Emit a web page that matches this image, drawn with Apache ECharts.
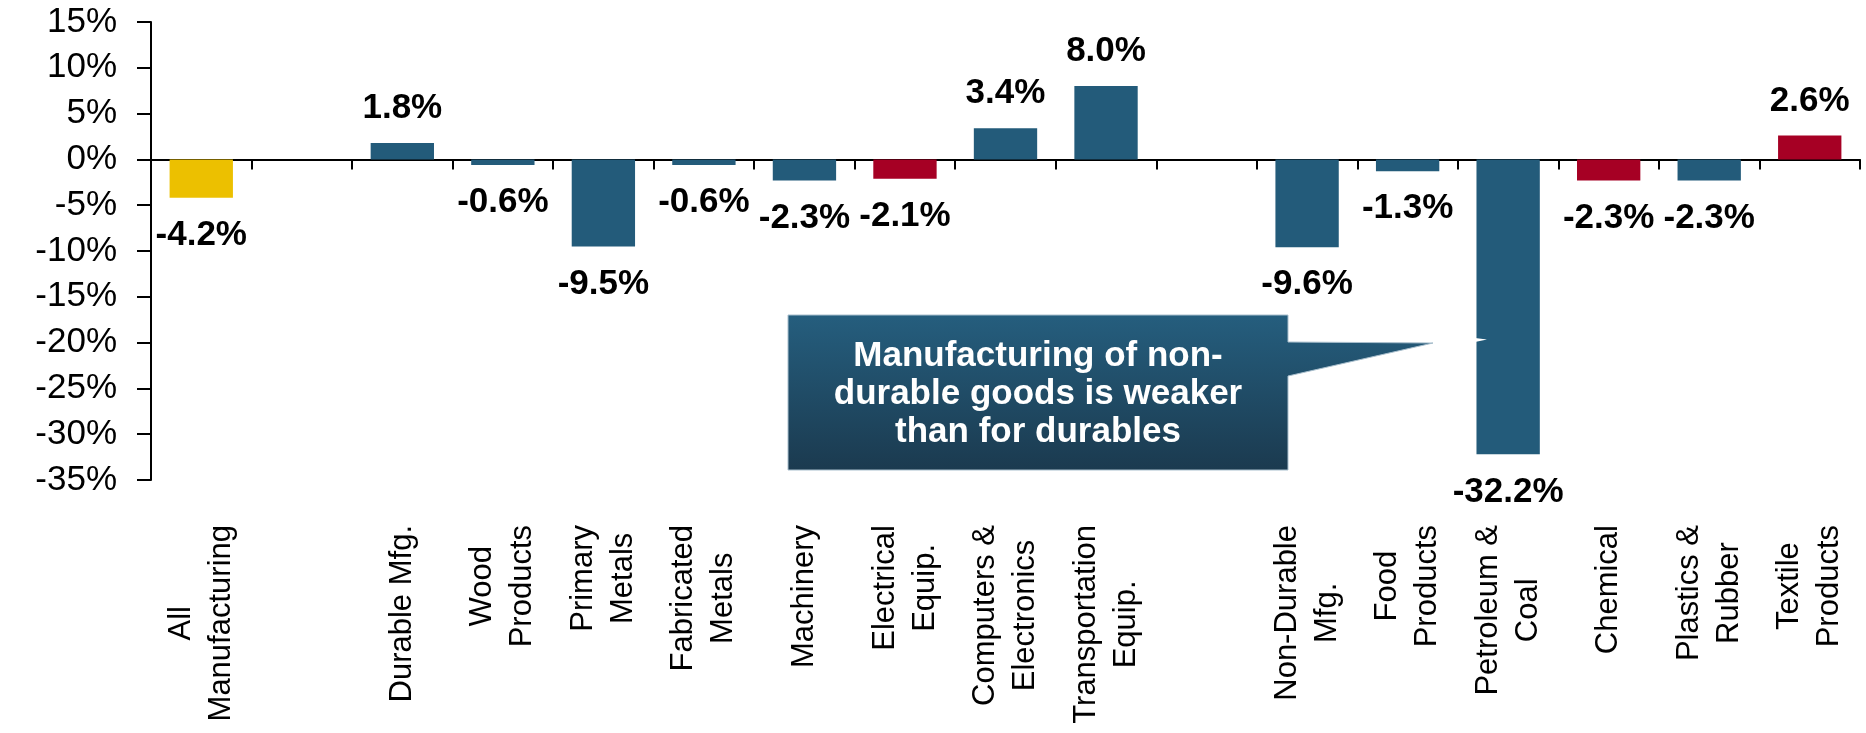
<!DOCTYPE html>
<html>
<head>
<meta charset="utf-8">
<script src="https://cdn.jsdelivr.net/npm/echarts@6/dist/echarts.min.js"></script>
<style>
html,body{margin:0;padding:0;background:#fff;}
#chart{width:1866px;height:733px;}
</style>
</head>
<body>
<div id="chart"></div>
<script>
// ---- data ----
const categories = [
  'All\nManufacturing', '', 'Durable Mfg.', 'Wood\nProducts', 'Primary\nMetals',
  'Fabricated\nMetals', 'Machinery', 'Electrical\nEquip.', 'Computers &\nElectronics',
  'Transportation\nEquip.', '', 'Non-Durable\nMfg.', 'Food\nProducts', 'Petroleum &\nCoal',
  'Chemical', 'Plastics &\nRubber', 'Textile\nProducts'
];
const values = [-4.2, null, 1.8, -0.6, -9.5, -0.6, -2.3, -2.1, 3.4, 8.0, null, -9.6, -1.3, -32.2, -2.3, -2.3, 2.6];
const yMin = -35, yMax = 15, yStep = 5;
const calloutLines = ['Manufacturing of non-', 'durable goods is weaker', 'than for durables'];
const totalCategories = ['All\nManufacturing'];
const highlightCategories = ['Electrical\nEquip.', 'Chemical', 'Textile\nProducts'];

// ---- styling ----
const BLUE = '#235B7A', YELLOW = '#ECC000', RED = '#A60024';
const FONT = '"Liberation Sans", Arial, sans-serif';

function barColor(idx) {
  const c = categories[idx];
  if (totalCategories.includes(c)) return YELLOW;
  if (highlightCategories.includes(c)) return RED;
  return BLUE;
}

const seriesData = values.map(v => v == null ? null : {
  value: v,
  label: { position: v < 0 ? 'bottom' : 'top', distance: v < 0 ? 20 : 17 }
});

const chart = echarts.init(document.getElementById('chart'), null, { renderer: 'canvas' });
chart.setOption({
  animation: false,
  backgroundColor: '#fff',
  textStyle: { fontFamily: FONT },
  grid: { left: 151, right: 6, top: 22, bottom: 253, containLabel: false },
  xAxis: [
    {
      type: 'category',
      data: categories,
      axisLine: { show: true, onZero: true, lineStyle: { color: '#000', width: 2 } },
      axisTick: { show: true, length: 10, interval: 0, lineStyle: { color: '#000', width: 2 } },
      axisLabel: { show: false },
      splitLine: { show: false }
    },
    {
      type: 'category',
      data: categories,
      position: 'bottom',
      axisLine: { show: false, onZero: false },
      axisTick: { show: false },
      splitLine: { show: false },
      axisLabel: {
        show: true,
        interval: 0,
        rotate: 90,
        margin: 45,
        color: '#000',
        fontFamily: FONT,
        fontSize: 31,
        lineHeight: 40,
        formatter: function (val) {
          if (!val) return '';
          return val.split('\n').map(s => '{c|' + s + '}').join('\n');
        },
        rich: {
          c: { align: 'center', fontSize: 31, lineHeight: 40, color: '#000', fontFamily: FONT }
        }
      }
    }
  ],
  yAxis: {
    type: 'value',
    min: yMin,
    max: yMax,
    interval: yStep,
    axisLine: { show: true, lineStyle: { color: '#000', width: 2 } },
    axisTick: { show: true, length: 14, lineStyle: { color: '#000', width: 2 } },
    splitLine: { show: false },
    axisLabel: {
      color: '#000',
      fontFamily: FONT,
      fontSize: 35,
      margin: 34,
      formatter: v => v + '%'
    }
  },
  series: [{
    type: 'bar',
    xAxisIndex: 0,
    data: seriesData,
    barWidth: '63%',
    itemStyle: { color: p => barColor(p.dataIndex) },
    label: {
      show: true,
      distance: 17,
      color: '#000',
      fontFamily: FONT,
      fontWeight: 'bold',
      fontSize: 35,
      formatter: p => p.value.toFixed(1) + '%'
    },
    z: 2
  }],
  graphic: [
    {
      type: 'polygon',
      z: 100,
      shape: { points: [[788, 315], [1288, 315], [1288, 342], [1433, 343], [1288, 376], [1288, 470], [788, 470]] },
      style: {
        fill: { type: 'linear', x: 0, y: 0, x2: 0, y2: 1,
          colorStops: [{ offset: 0, color: '#255E7E' }, { offset: 1, color: '#1B3A4F' }] },
        stroke: '#A9BFCD',
        lineWidth: 1
      }
    },
    {
      type: 'polygon',
      z: 100,
      shape: { points: [[1475, 338], [1487, 339.5], [1475, 342]] },
      style: { fill: '#fff' }
    },
    {
      type: 'text',
      z: 101,
      x: 1038,
      y: 394,
      style: {
        text: calloutLines.join('\n'),
        fill: '#fff',
        fontFamily: FONT,
        fontWeight: 'bold',
        fontSize: 35,
        lineHeight: 38,
        align: 'center',
        verticalAlign: 'middle',
        textAlign: 'center',
        textVerticalAlign: 'middle'
      }
    }
  ]
});
</script>
</body>
</html>
